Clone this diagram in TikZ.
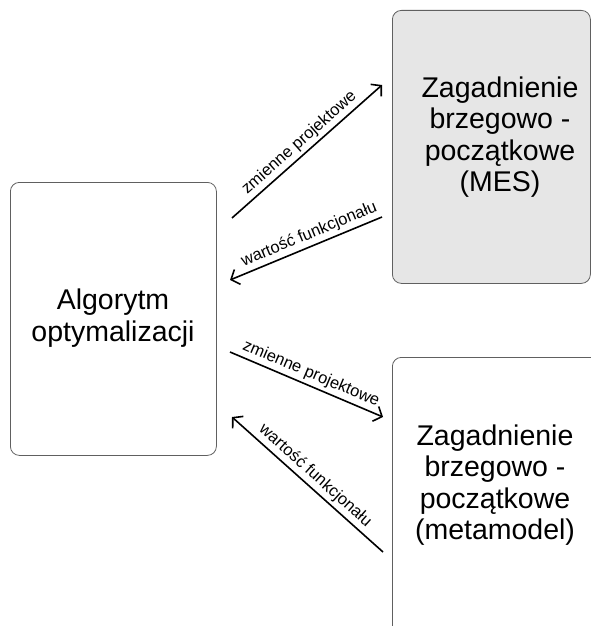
\documentclass[tikz,border=0pt]{standalone}
\usepackage{fontspec}
\setmainfont{Liberation Sans}
\usetikzlibrary{arrows.meta}
\definecolor{boxline}{HTML}{606060}
\definecolor{boxfill}{HTML}{E6E6E6}
\begin{document}
\begin{tikzpicture}[x=1pt,y=-1pt,
  box/.style={draw=boxline, line width=0.8pt, rounded corners=9pt, inner sep=0pt},
  boxtext/.style={font=\fontsize{28.5}{31.5}\selectfont, align=center, inner sep=0pt},
  flow/.style={line width=1.6pt, -{Straight Barb[length=7pt,width=16pt]}},
  lbl/.style={font=\fontsize{16.5}{18}\selectfont, sloped, above=2pt, inner sep=1pt}]
\useasboundingbox (0,0) rectangle (591,626);
\clip (0,0) rectangle (591,626);
% boxes
\node[box, minimum width=206pt, minimum height=273pt, anchor=north west] (algbox) at (10,182) {};
\node[box, fill=boxfill, minimum width=198pt, minimum height=273pt, anchor=north west] (mesbox) at (392,10) {};
\node[box, minimum width=230pt, minimum height=300pt, anchor=north west] (metabox) at (392,357) {};
% texts
\node[boxtext] (algtext) at (113,318) {Algorytm\\optymalizacji};
\node[boxtext] (mestext) at (500,137) {Zagadnienie\\brzegowo -\\początkowe\\(MES)};
\node[boxtext] (metatext) at (495,485) {Zagadnienie\\brzegowo -\\początkowe\\(metamodel)};
% arrow end points
\coordinate (a1s) at (232,218);
\coordinate (a1e) at (382,85);
\coordinate (a2s) at (382,217);
\coordinate (a2e) at (230,280);
\coordinate (a3s) at (230,352);
\coordinate (a3e) at (383,417);
\coordinate (a4s) at (383,552);
\coordinate (a4e) at (232,417);
% arrows
\draw[flow] (a1s) -- (a1e) node[lbl, pos=0.5] (l1) {zmienne projektowe};
\draw[flow] (a2s) -- (a2e) node[lbl, pos=0.45] (l2) {wartość funkcjonału};
\draw[flow] (a3s) -- (a3e) node[lbl, pos=0.5] (l3) {zmienne projektowe};
\draw[flow] (a4s) -- (a4e) node[lbl, pos=0.5] (l4) {wartość funkcjonału};
\end{tikzpicture}
\end{document}
